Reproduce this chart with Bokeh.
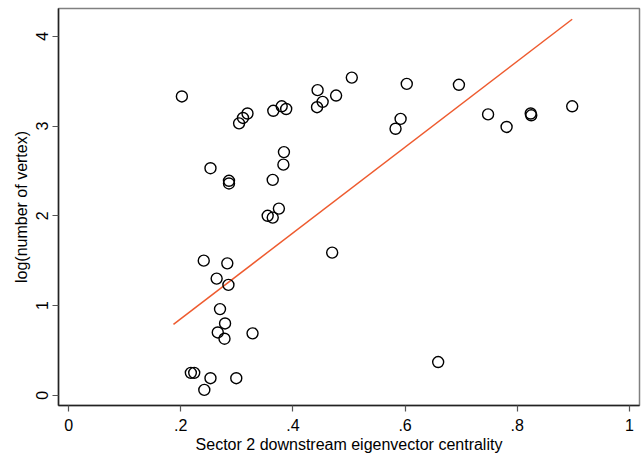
import math
from bokeh.plotting import figure
from bokeh.models import FixedTicker, Range1d
from bokeh.embed import file_html
from bokeh.resources import INLINE

# Scatter data
centrality = [0.202, 0.253, 0.286, 0.286, 0.304, 0.311, 0.319, 0.365, 0.380, 0.388,
              0.384, 0.383, 0.364, 0.375, 0.355, 0.364, 0.444, 0.443, 0.453, 0.477,
              0.505, 0.603, 0.592, 0.583, 0.696, 0.748, 0.781, 0.824, 0.825, 0.898,
              0.470, 0.659, 0.241, 0.283, 0.264, 0.285, 0.270, 0.279, 0.266, 0.278,
              0.328, 0.218, 0.224, 0.253, 0.299, 0.242]
log_vertex = [3.33, 2.53, 2.39, 2.36, 3.03, 3.09, 3.14, 3.17, 3.22, 3.19,
              2.71, 2.57, 2.40, 2.08, 2.00, 1.98, 3.40, 3.21, 3.27, 3.34,
              3.54, 3.47, 3.08, 2.97, 3.46, 3.13, 2.99, 3.14, 3.12, 3.22,
              1.59, 0.37, 1.50, 1.47, 1.30, 1.23, 0.96, 0.80, 0.70, 0.63,
              0.69, 0.25, 0.25, 0.19, 0.19, 0.06]

# Fitted line endpoints
fit_x = [0.187, 0.898]
fit_y = [0.79, 4.19]

x_ticks = [0, 0.2, 0.4, 0.6, 0.8, 1]
x_tick_labels = ["0", ".2", ".4", ".6", ".8", "1"]
y_ticks = [0, 1, 2, 3, 4]

FONT = "Liberation Sans"

p = figure(width=641, height=455, output_backend="svg", toolbar_location=None,
           x_range=Range1d(-0.018, 1.018), y_range=Range1d(-0.114, 4.31),
           min_border_left=58, min_border_right=2, min_border_top=8, min_border_bottom=48)

p.grid.visible = False
p.outline_line_color = "#808080"
p.outline_line_width = 1.5
p.background_fill_color = "white"
p.border_fill_color = "white"

p.line(fit_x, fit_y, line_color="#EE5B2F", line_width=1.5)
p.scatter(centrality, log_vertex, marker="circle", size=11, fill_color=None,
          line_color="black", line_width=1.4)

p.xaxis.ticker = FixedTicker(ticks=x_ticks)
p.xaxis.major_label_overrides = {t: l for t, l in zip(x_ticks, x_tick_labels)}
p.yaxis.ticker = FixedTicker(ticks=y_ticks)
p.yaxis.major_label_orientation = "vertical"

for ax in (p.xaxis[0], p.yaxis[0]):
    ax.axis_line_color = "#222222"
    ax.axis_line_width = 1.5
    ax.major_tick_line_color = "#555555"
    ax.major_tick_line_width = 1.2
    ax.major_tick_in = 0
    ax.major_tick_out = 6
    ax.minor_tick_line_color = None
    ax.major_label_text_font = FONT
    ax.major_label_text_font_size = "16px"
    ax.major_label_text_color = "black"
    ax.axis_label_text_font = FONT
    ax.axis_label_text_font_size = "16px"
    ax.axis_label_text_font_style = "normal"
    ax.axis_label_text_color = "black"
    ax.major_label_standoff = 4
    ax.axis_label_standoff = 4

p.xaxis[0].major_label_standoff = 7
p.xaxis[0].axis_label_standoff = 2

p.xaxis.axis_label = "Sector 2 downstream eigenvector centrality"
p.yaxis.axis_label = "log(number of vertex)"

open("out.html", "w").write(file_html(p, INLINE))
